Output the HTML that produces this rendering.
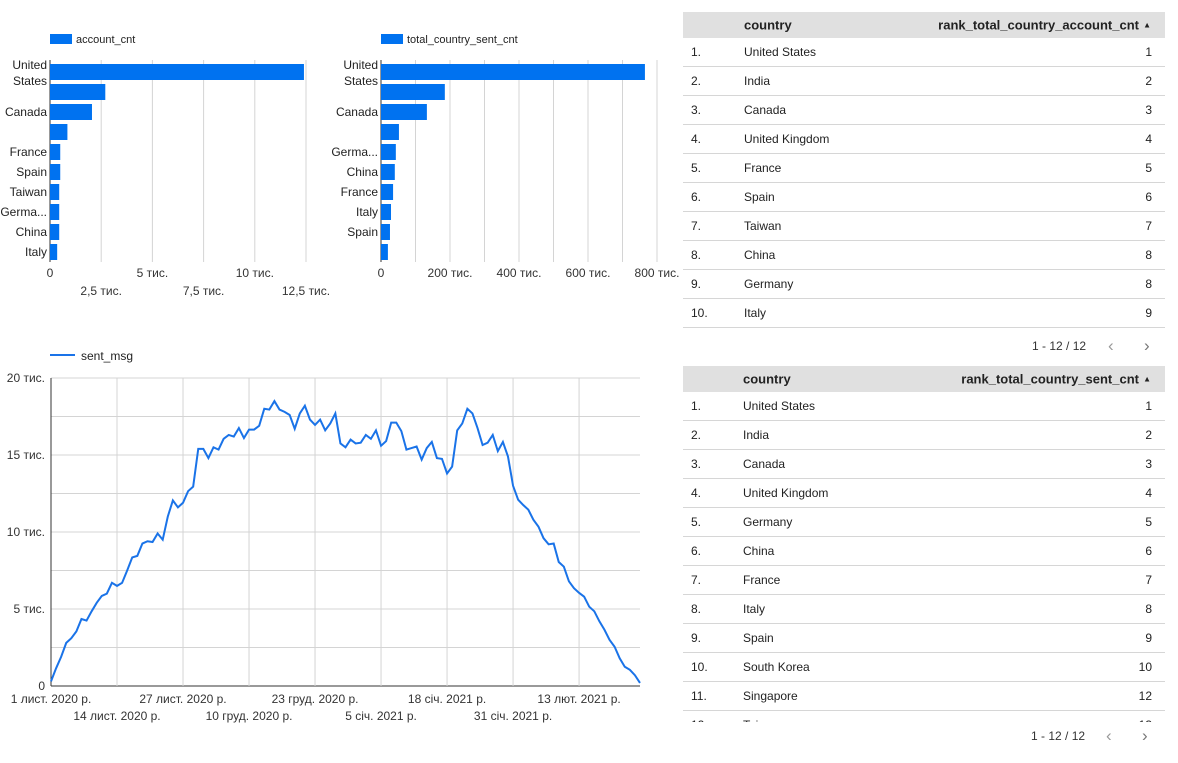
<!DOCTYPE html>
<html><head><meta charset="utf-8">
<style>
body{margin:0;width:1178px;height:763px;background:#fff;font-family:"Liberation Sans",sans-serif;color:#222;overflow:hidden;position:relative}
svg text{font-family:"Liberation Sans",sans-serif}
.tbl{position:absolute;left:683px;width:482px;font-size:12px;overflow:hidden}
.tbl .hd{height:26px;background:#e0e0e0;font-weight:bold;font-size:13px;position:relative}
.tbl .row{height:28px;border-bottom:1px solid #d6d6d6;position:relative}
.tbl span{position:absolute;top:50%;transform:translateY(-50%)}
.tbl .arr{font-size:8px;font-weight:normal}
.pg{position:absolute;font-size:12px;color:#333}
</style></head><body>
<svg id="ch" width="1178" height="763" style="position:absolute;left:0;top:0"></svg>

<div class="tbl" style="top:12px">
 <div class="hd"><span style="left:61px">country</span><span style="right:26px">rank_total_country_account_cnt</span><span class="arr" style="right:14px">▲</span></div>
 <div id="t1"></div>
</div>
<div class="pg" style="left:1032px;top:339px">1 - 12 / 12</div>
<div class="pg" style="left:1108px;top:336px;font-size:17px;color:#999">‹</div>
<div class="pg" style="left:1144px;top:336px;font-size:17px;color:#777">›</div>

<div class="tbl" style="top:366px;height:356px">
 <div class="hd"><span style="left:60px">country</span><span style="right:26px">rank_total_country_sent_cnt</span><span class="arr" style="right:14px">▲</span></div>
 <div id="t2"></div>
</div>
<div class="pg" style="left:1031px;top:729px">1 - 12 / 12</div>
<div class="pg" style="left:1106px;top:726px;font-size:17px;color:#999">‹</div>
<div class="pg" style="left:1142px;top:726px;font-size:17px;color:#777">›</div>

<script>
const acctCountries=["United States","India","Canada","United Kingdom","France","Spain","Taiwan","Germany","China","Italy"];
const acctLabels=["United|States","","Canada","","France","Spain","Taiwan","Germa...","China","Italy"];
const acctValues=[12400,2700,2050,850,500,500,450,450,450,350];
const acctTicks=[0,2500,5000,7500,10000,12500];
const acctTickLabels=["0","2,5 тис.","5 тис.","7,5 тис.","10 тис.","12,5 тис."];

const sentLabels=["United|States","","Canada","","Germa...","China","France","Italy","Spain",""];
const sentValues=[765000,185000,133000,52000,43000,40000,35000,29000,26000,20000];
const sentTicks=[0,100000,200000,300000,400000,500000,600000,700000,800000];
const sentTickLabels=["0","","200 тис.","","400 тис.","","600 тис.","","800 тис."];

const lineValues=[0.3,1.15,1.9,2.8,3.1,3.55,4.35,4.25,4.85,5.4,5.85,6.0,6.7,6.5,6.7,7.5,8.35,8.45,9.25,9.4,9.35,9.9,9.5,11.0,12.05,11.6,11.9,12.65,12.95,15.4,15.4,14.8,15.5,15.35,16.05,16.3,16.2,16.75,16.1,16.65,16.65,16.9,18.0,17.95,18.5,17.95,17.8,17.6,16.7,17.7,18.2,17.3,16.95,17.3,16.6,17.05,17.7,15.75,15.5,16.0,15.75,15.8,16.3,16.05,16.6,15.6,15.9,17.1,17.1,16.55,15.35,15.45,15.55,14.7,15.45,15.85,14.8,14.75,13.8,14.25,16.6,17.05,18.0,17.7,16.75,15.65,15.8,16.3,15.25,15.85,14.9,13.0,12.1,11.75,11.45,10.8,10.35,9.6,9.2,9.25,8.05,7.75,6.8,6.35,6.05,5.8,5.15,4.85,4.2,3.65,3.0,2.55,1.8,1.25,1.05,0.7,0.2];
const lineYTicks=[0,2.5,5,7.5,10,12.5,15,17.5,20];
const lineYTickLabels=["0","","5 тис.","","10 тис.","","15 тис.","","20 тис."];
const lineXTickDays=[0,13,26,39,52,65,78,91,104];
const lineXTickLabels=["1 лист. 2020 р.","14 лист. 2020 р.","27 лист. 2020 р.","10 груд. 2020 р.","23 груд. 2020 р.","5 січ. 2021 р.","18 січ. 2021 р.","31 січ. 2021 р.","13 лют. 2021 р."];

const rank1=[["United States",1],["India",2],["Canada",3],["United Kingdom",4],["France",5],["Spain",6],["Taiwan",7],["China",8],["Germany",8],["Italy",9]];
const rank2=[["United States",1],["India",2],["Canada",3],["United Kingdom",4],["Germany",5],["China",6],["France",7],["Italy",8],["Spain",9],["South Korea",10],["Singapore",12],["Taiwan",13]];

const NS="http://www.w3.org/2000/svg";
const svg=document.getElementById('ch');
function mk(tag,attrs,parent){const e=document.createElementNS(NS,tag);for(const k in attrs)e.setAttribute(k,attrs[k]);(parent||svg).appendChild(e);return e;}
function txt(s,attrs,parent){const e=mk('text',attrs,parent);e.textContent=s;return e;}

function barChart(name,x0,x1,maxV,ticks,tickLabels,vals,labels,legend){
  const g=mk('g',{});
  
  
  const sx=v=>x0+(x1-x0)*v/maxV;
  const top=60,rowH=20,bot=262;
  ticks.forEach((t,i)=>{
    const gl=mk('line',{x1:sx(t),x2:sx(t),y1:top,y2:bot,stroke:i==0?'#333':'#d4d4d4','stroke-width':1},g);
    
    
    if(tickLabels[i]){
      const tl=txt(tickLabels[i],{x:sx(t),y:(i%2==0?277:295),'font-size':12,'text-anchor':'middle',fill:'#333'},g);
      
      
    }
  });
  vals.forEach((v,i)=>{
    const y=top+4+i*rowH;
    const r=mk('rect',{x:x0,y:y,width:sx(v)-x0,height:16,fill:'#0072f0'},g);
    
    
    const parts=labels[i].split('|').filter(s=>s);
    parts.forEach((p,j)=>{
      const yy=parts.length==2?y+5+j*16:y+12;
      const l=txt(p,{x:x0-3,y:yy,'font-size':12,'text-anchor':'end',fill:'#222'},g);
      
      
    });
  });
  const lg=mk('rect',{x:x0,y:34,width:22,height:10,fill:'#0072f0'},g);
  
  
  const lt=txt(legend,{x:x0+26,y:43,'font-size':11,fill:'#222'},g);
  
  
}
barChart('account-bar-chart',50,306,12500,acctTicks,acctTickLabels,acctValues,acctLabels,'account_cnt');
barChart('sent-bar-chart',381,657,800000,sentTicks,sentTickLabels,sentValues,sentLabels,'total_country_sent_cnt');

const lg=mk('g',{});


const LX0=51,LX1=640,LY0=686,LY1=378;
const nDays=lineValues.length-1;
const lx=d=>LX0+(LX1-LX0)*d/nDays;
const ly=v=>LY0-(LY0-LY1)*v/20;
lineYTicks.forEach((t,i)=>{
  const l=mk('line',{x1:LX0,x2:LX1,y1:ly(t),y2:ly(t),stroke:i==0?'#333':'#d4d4d4'},lg);
  
  
  if(lineYTickLabels[i]){
    const tl=txt(lineYTickLabels[i],{x:45,y:ly(t)+4,'font-size':12,'text-anchor':'end',fill:'#333'},lg);
    
    
  }
});
lineXTickDays.forEach((d,i)=>{
  const l=mk('line',{x1:lx(d),x2:lx(d),y1:LY1,y2:LY0,stroke:i==0?'#333':'#d4d4d4'},lg);
  
  
  const tl=txt(lineXTickLabels[i],{x:lx(d),y:(i%2==0?703:720),'font-size':12,'text-anchor':'middle',fill:'#333'},lg);
  
  
});
const path=mk('polyline',{points:lineValues.map((v,i)=>lx(i)+','+ly(v)).join(' '),fill:'none',stroke:'#1a73e8','stroke-width':2},lg);


const ll=mk('line',{x1:50,x2:75,y1:355,y2:355,stroke:'#1a73e8','stroke-width':2},lg);


const lt=txt('sent_msg',{x:81,y:360,'font-size':12,fill:'#222'},lg);



function fillTable(id,rows,cx){
  const c=document.getElementById(id);
  rows.forEach((r,i)=>{
    const d=document.createElement('div');
    d.className='row';
    
    
    d.innerHTML='<span style="left:8px">'+(i+1)+'.</span><span style="left:'+cx+'px">'+r[0]+'</span><span style="right:13px">'+r[1]+'</span>';
    c.appendChild(d);
  });
}
fillTable('t1',rank1,61);
fillTable('t2',rank2,60);
</script>
</body></html>
